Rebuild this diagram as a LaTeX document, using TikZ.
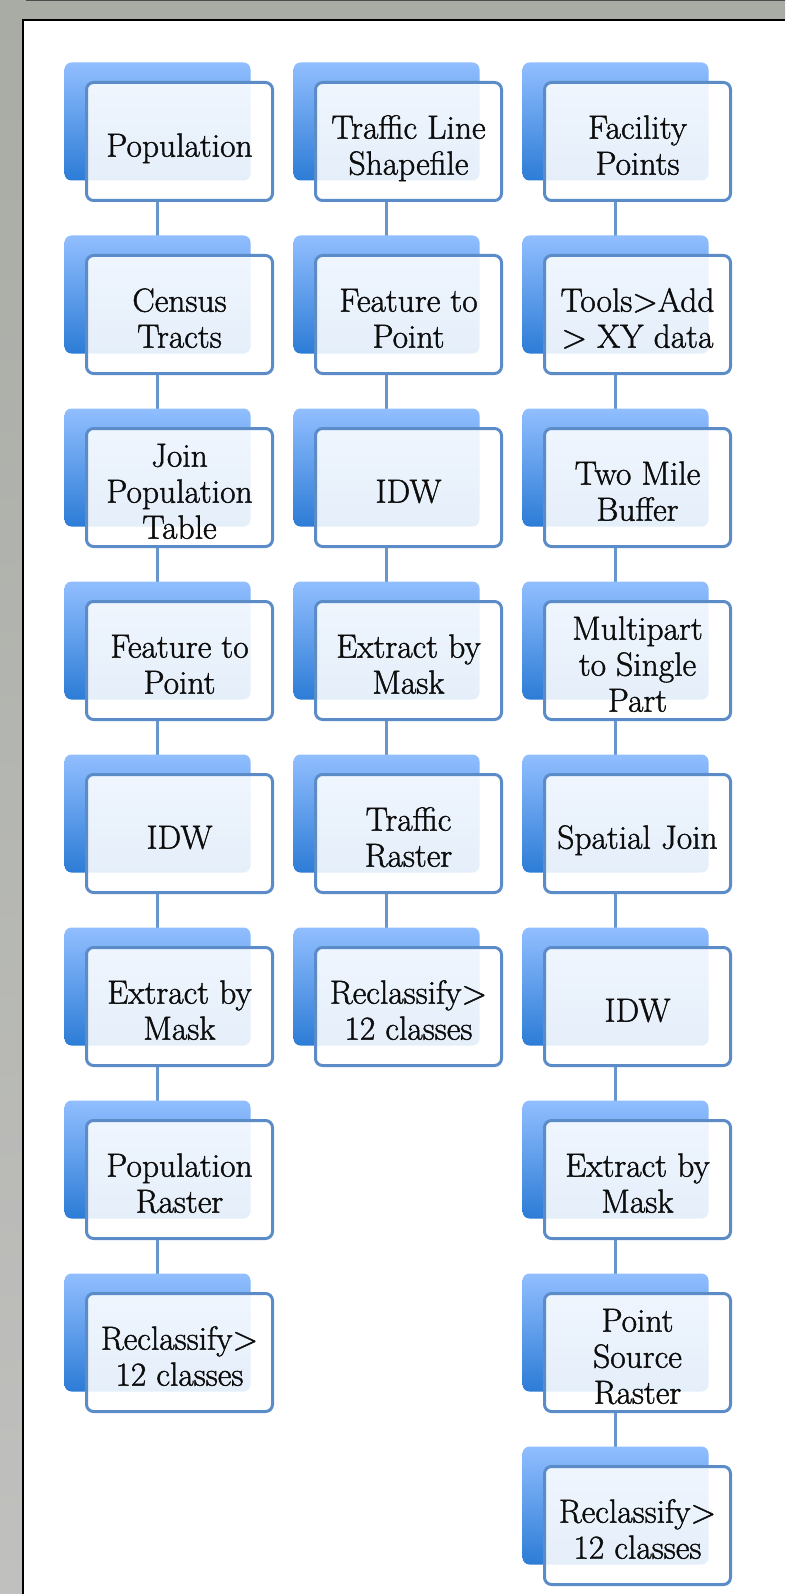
\documentclass[tikz,border=0pt]{standalone}
\usepackage{fontspec}
\usetikzlibrary{positioning,shadows,backgrounds}

\newfontfamily\boxfont{Latin Modern Roman}[FakeBold=1.3]

\definecolor{bgtop}{RGB}{168,172,164}
\definecolor{bgbot}{RGB}{192,192,190}
\definecolor{boxline}{RGB}{92,140,200}
\definecolor{linkblue}{RGB}{104,150,204}
\definecolor{backtop}{RGB}{145,190,255}
\definecolor{backbot}{RGB}{44,124,214}

\newcommand{\boxlabel}[1]{\raisebox{-8pt}[\height][\depth]{\begin{tabular}{@{}c@{}}#1\end{tabular}}}

\tikzset{
  stepbox/.style={draw=boxline, line width=3pt, rounded corners=7pt,
    fill=white, fill opacity=0.88, text opacity=1, text=black!95,
    minimum width=186pt, minimum height=118pt, inner sep=0pt,
    font=\boxfont\fontsize{33.5}{36}\selectfont,
    general shadow={shadow xshift=-22pt, shadow yshift=20pt, fill opacity=1,
      top color=backtop, bottom color=backbot}},
  link/.style={draw=linkblue, line width=3pt}
}

\begin{document}
\begin{tikzpicture}[x=1pt, y=1pt, node distance=52pt and 40pt]
  \useasboundingbox (0,0) rectangle (785,-1594);
  % frame
  \begin{scope}[on background layer]
    \shade[top color=bgtop, bottom color=bgbot] (0,0) rectangle (785,-1594);
    \draw[black!70, line width=1pt] (26,-0.5) -- (785,-0.5);
    \fill[white] (22,-19) rectangle (786,-1595);
    \draw[black, line width=2.5pt] (23,-1594) -- (23,-20) -- (785,-20);
  \end{scope}

  % population column
  \node[stepbox] (pop) at (179.5,-141.5) {\boxlabel{Population}};
  \node[stepbox, below=of pop] (tract) {\boxlabel{Census\\Tracts}};
  \node[stepbox, below=of tract] (join) {\boxlabel{Join\\Population\\Table}};
  \node[stepbox, below=of join] (ftpa) {\boxlabel{Feature to\\Point}};
  \node[stepbox, below=of ftpa] (idwa) {\boxlabel{IDW}};
  \node[stepbox, below=of idwa] (maska) {\boxlabel{Extract by\\Mask}};
  \node[stepbox, below=of maska] (praster) {\boxlabel{Population\\Raster}};
  \node[stepbox, below=of praster] (recla) {\boxlabel{Reclassify>\\12 classes}};

  % traffic column
  \node[stepbox, right=of pop] (traffic) {\boxlabel{Traffic Line\\Shapefile}};
  \node[stepbox, below=of traffic] (ftpb) {\boxlabel{Feature to\\Point}};
  \node[stepbox, below=of ftpb] (idwb) {\boxlabel{IDW}};
  \node[stepbox, below=of idwb] (maskb) {\boxlabel{Extract by\\Mask}};
  \node[stepbox, below=of maskb] (traster) {\boxlabel{Traffic\\Raster}};
  \node[stepbox, below=of traster] (reclb) {\boxlabel{Reclassify>\\12 classes}};

  % facility column
  \node[stepbox, right=of traffic] (fac) {\boxlabel{Facility\\Points}};
  \node[stepbox, below=of fac] (xy) {\boxlabel{Tools>Add\\> XY data}};
  \node[stepbox, below=of xy] (buffer) {\boxlabel{Two Mile\\Buffer}};
  \node[stepbox, below=of buffer] (multi) {\boxlabel{Multipart\\to Single\\Part}};
  \node[stepbox, below=of multi] (sjoin) {\boxlabel{Spatial Join}};
  \node[stepbox, below=of sjoin] (idwc) {\boxlabel{IDW}};
  \node[stepbox, below=of idwc] (maskc) {\boxlabel{Extract by\\Mask}};
  \node[stepbox, below=of maskc] (psraster) {\boxlabel{Point\\Source\\Raster}};
  \node[stepbox, below=of psraster] (reclc) {\boxlabel{Reclassify>\\12 classes}};

  % connectors
  \begin{scope}[on background layer]
    \foreach \a/\b in {pop/tract, tract/join, join/ftpa, ftpa/idwa, idwa/maska,
        maska/praster, praster/recla, traffic/ftpb, ftpb/idwb, idwb/maskb,
        maskb/traster, traster/reclb, fac/xy, xy/buffer, buffer/multi,
        multi/sjoin, sjoin/idwc, idwc/maskc, maskc/psraster, psraster/reclc}
      \draw[link] ([xshift=-22pt]\a.south) -- ([xshift=-22pt]\b.north);
  \end{scope}
\end{tikzpicture}
\end{document}
